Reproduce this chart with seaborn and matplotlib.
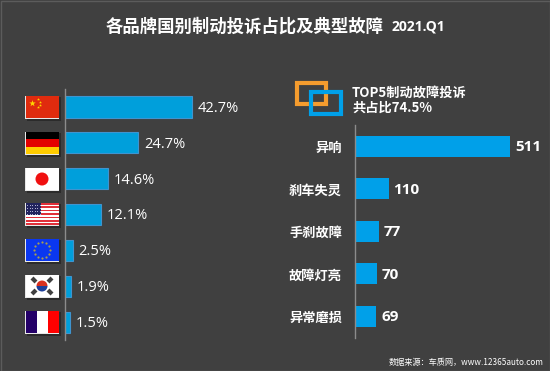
import matplotlib
matplotlib.use('Agg')
import matplotlib.pyplot as plt
from matplotlib.patches import Rectangle, Circle, Wedge
import pandas as pd
import seaborn as sns

# --- data ---
countries = ['China', 'Germany', 'Japan', 'USA', 'EU', 'Korea', 'France']
country_share = [42.7, 24.7, 14.6, 12.1, 2.5, 1.9, 1.5]
faults = ['异响', '刹车失灵', '手刹故障', '故障灯亮', '异常磨损']
fault_counts = [511, 110, 77, 70, 69]

BG = '#404040'
W, H = 550, 371

sns.set_theme(style='dark')
plt.rcParams['font.family'] = ['Noto Sans CJK SC', 'DejaVu Sans']

fig = plt.figure(figsize=(5.5, 3.71), dpi=100, facecolor=BG)


def axes_px(x0, y0, x1, y1, **kw):
    # axes placed by pixel box, y measured from the top
    return fig.add_axes([x0 / W, 1 - y1 / H, (x1 - x0) / W, (y1 - y0) / H], **kw)


# --- left chart: share by country ---
ax1 = axes_px(65.2, 89, 260, 340.2, facecolor='none')
df1 = pd.DataFrame({'country': countries, 'share': country_share})
sns.barplot(data=df1, y='country', x='share', ax=ax1, color='#009fdb', saturation=1,
            width=0.59, edgecolor='#3f94cf', linewidth=0.8)
ax1.set_xlim(0, 194.8 / 2.96)
for i, v in enumerate(country_share):
    ax1.annotate(f'{v}%', (v, i), xytext=(4, -1), textcoords='offset points', va='center',
                 color='white', fontsize=10.5, family=['Open Sans', 'DejaVu Sans'])

# --- right chart: top 5 faults ---
ax2 = axes_px(355.3, 125.2, 540, 337.7, facecolor='none')
df2 = pd.DataFrame({'fault': faults, 'count': fault_counts})
sns.barplot(data=df2, y='fault', x='count', ax=ax2, color='#00a0e9', saturation=1,
            width=0.494, edgecolor='none', linewidth=0)
ax2.set_xlim(0, 184.7 / 0.3033)
for i, v in enumerate(fault_counts):
    ax2.annotate(str(v), (v, i), xytext=(3.5, -0.5), textcoords='offset points', va='center',
                 color='white', fontsize=11, fontweight='bold',
                 family=['Open Sans', 'DejaVu Sans'])

for ax in (ax1, ax2):
    ax.set_xlabel('')
    ax.set_ylabel('')
    ax.set_xticks([])
    ax.grid(False)
    for s in ('top', 'right', 'bottom'):
        ax.spines[s].set_visible(False)
    ax.spines['left'].set_color('#8c8c8c')
    ax.spines['left'].set_linewidth(1)
ax1.set_yticks([])
ax1.set_ylabel('')
ax2.tick_params(axis='y', length=0, pad=9.5, labelcolor='white', labelsize=9.5)
for lab in ax2.get_yticklabels():
    lab.set_fontweight('bold')
    lab.set_y(lab.get_position()[1])
    lab.set_verticalalignment('center_baseline')

# --- overlay in pixel coordinates: flags, icon, border ---
ov = fig.add_axes([0, 0, 1, 1], facecolor='none')
ov.set_xlim(0, W)
ov.set_ylim(H, 0)
ov.axis('off')


def rect(x, y, w, h, c, **kw):
    ov.add_patch(Rectangle((x, y), w, h, facecolor=c, edgecolor='none', **kw))


flag_x, flag_w, flag_h = 25.5, 33, 22
flag_ys = [96, 132, 168, 203, 239, 275, 311]

for y in flag_ys:
    rect(flag_x + 1, y + 1, flag_w + 1, flag_h + 1.5, '#2b2b2b')  # shadow
    rect(flag_x - 0.5, y - 0.5, flag_w + 1, flag_h + 1, '#e8e8e8')

# China
y = flag_ys[0]
rect(flag_x, y, flag_w, flag_h, '#e02b0e')
ov.scatter([flag_x + 6.5], [y + 6.5], marker='*', s=24, color='#ffd800', linewidths=0)
ov.scatter([flag_x + d for d in (12, 14, 14, 12)], [y + d for d in (3, 5.5, 8.5, 11)],
           marker='*', s=5, color='#ffd800', linewidths=0)
# Germany
y = flag_ys[1]
rect(flag_x, y, flag_w, flag_h / 3, '#000000')
rect(flag_x, y + flag_h / 3, flag_w, flag_h / 3, '#e30000')
rect(flag_x, y + 2 * flag_h / 3, flag_w, flag_h / 3, '#ffcc00')
# Japan
y = flag_ys[2]
rect(flag_x, y, flag_w, flag_h, '#ffffff')
ov.add_patch(Circle((flag_x + flag_w / 2, y + flag_h / 2), 6.5, color='#f01010', lw=0))
# USA
y = flag_ys[3]
rect(flag_x, y, flag_w, flag_h, '#ffffff')
for k in range(0, 7):
    rect(flag_x, y + k * flag_h / 6.5, flag_w, flag_h / 13, '#e0303a')
rect(flag_x, y, 15.5, 12, '#22245e')
ov.scatter([flag_x + 1.5 + 2.5 * a for a in range(6) for b in range(4)],
           [y + 1.5 + 3 * b for a in range(6) for b in range(4)],
           marker='.', s=2, color='#b8b8d8', linewidths=0)
# EU
y = flag_ys[4]
rect(flag_x, y, flag_w, flag_h, '#0a37f0')
eu_dx = [0, 4, 7, 8, 7, 4, 0, -4, -7, -8, -7, -4]
eu_dy = [-8, -7, -4, 0, 4, 7, 8, 7, 4, 0, -4, -7]
ov.scatter([flag_x + flag_w / 2 + d for d in eu_dx], [y + flag_h / 2 + d for d in eu_dy],
           marker='o', s=2.5, color='#a8a050', linewidths=0)
# Korea
y = flag_ys[5]
rect(flag_x, y, flag_w, flag_h, '#ffffff')
cx, cy = flag_x + flag_w / 2, y + flag_h / 2
ov.add_patch(Wedge((cx, cy), 5.5, 180, 360, color='#d8301f', lw=0))
ov.add_patch(Wedge((cx, cy), 5.5, 0, 180, color='#1d3f9a', lw=0))
for dx, dy in ((-8, -6), (8, -6), (-8, 6), (8, 6)):
    ov.plot([cx + dx - 2, cx + dx + 2], [cy + dy + (2 if dx * dy < 0 else -2),
                                          cy + dy + (-2 if dx * dy < 0 else 2)],
            color='#404040', lw=3, solid_capstyle='butt')
# France
y = flag_ys[6]
rect(flag_x, y, 11, flag_h, '#240068')
rect(flag_x + 11, y, 11, flag_h, '#ffffff')
rect(flag_x + 22, y, 11, flag_h, '#ff0000')

# TOP5 icon
ov.add_patch(Rectangle((297.1, 83.1), 28.5, 20.8, fill=False, edgecolor='#f59c2e', lw=3))
ov.add_patch(Rectangle((311.1, 92), 29.8, 22, fill=False, edgecolor='#00a0e9', lw=3))

# border
ov.add_patch(Rectangle((0.5, 0.5), W - 1, H - 1, fill=False, edgecolor='#5c5c5c', lw=1))

# --- texts ---
fig.text(106 / W, 1 - 27 / H, '各品牌国别制动投诉占比及典型故障', color='white', fontsize=12.5,
         fontweight='bold', va='center', ha='left')
fig.text(392 / W, 1 - 26.5 / H, '2021.Q1', color='white', fontsize=10, fontweight='bold',
         va='center', ha='left', family=['Open Sans', 'DejaVu Sans'])
fig.text(352 / W, 1 - 92.5 / H, 'TOP5制动故障投诉', color='white', fontsize=9.5, fontweight='bold',
         va='center', ha='left')
fig.text(352 / W, 1 - 108 / H, '共占比74.5%', color='white', fontsize=9.5, fontweight='bold',
         va='center', ha='left')
fig.text(544 / W, 1 - 362.5 / H, '数据来源：车质网，www.12365auto.com', color='white', fontsize=5.9,
         fontweight='medium', va='center', ha='right')

plt.savefig('out.png', dpi=100, facecolor=BG)
plt.close(fig)
